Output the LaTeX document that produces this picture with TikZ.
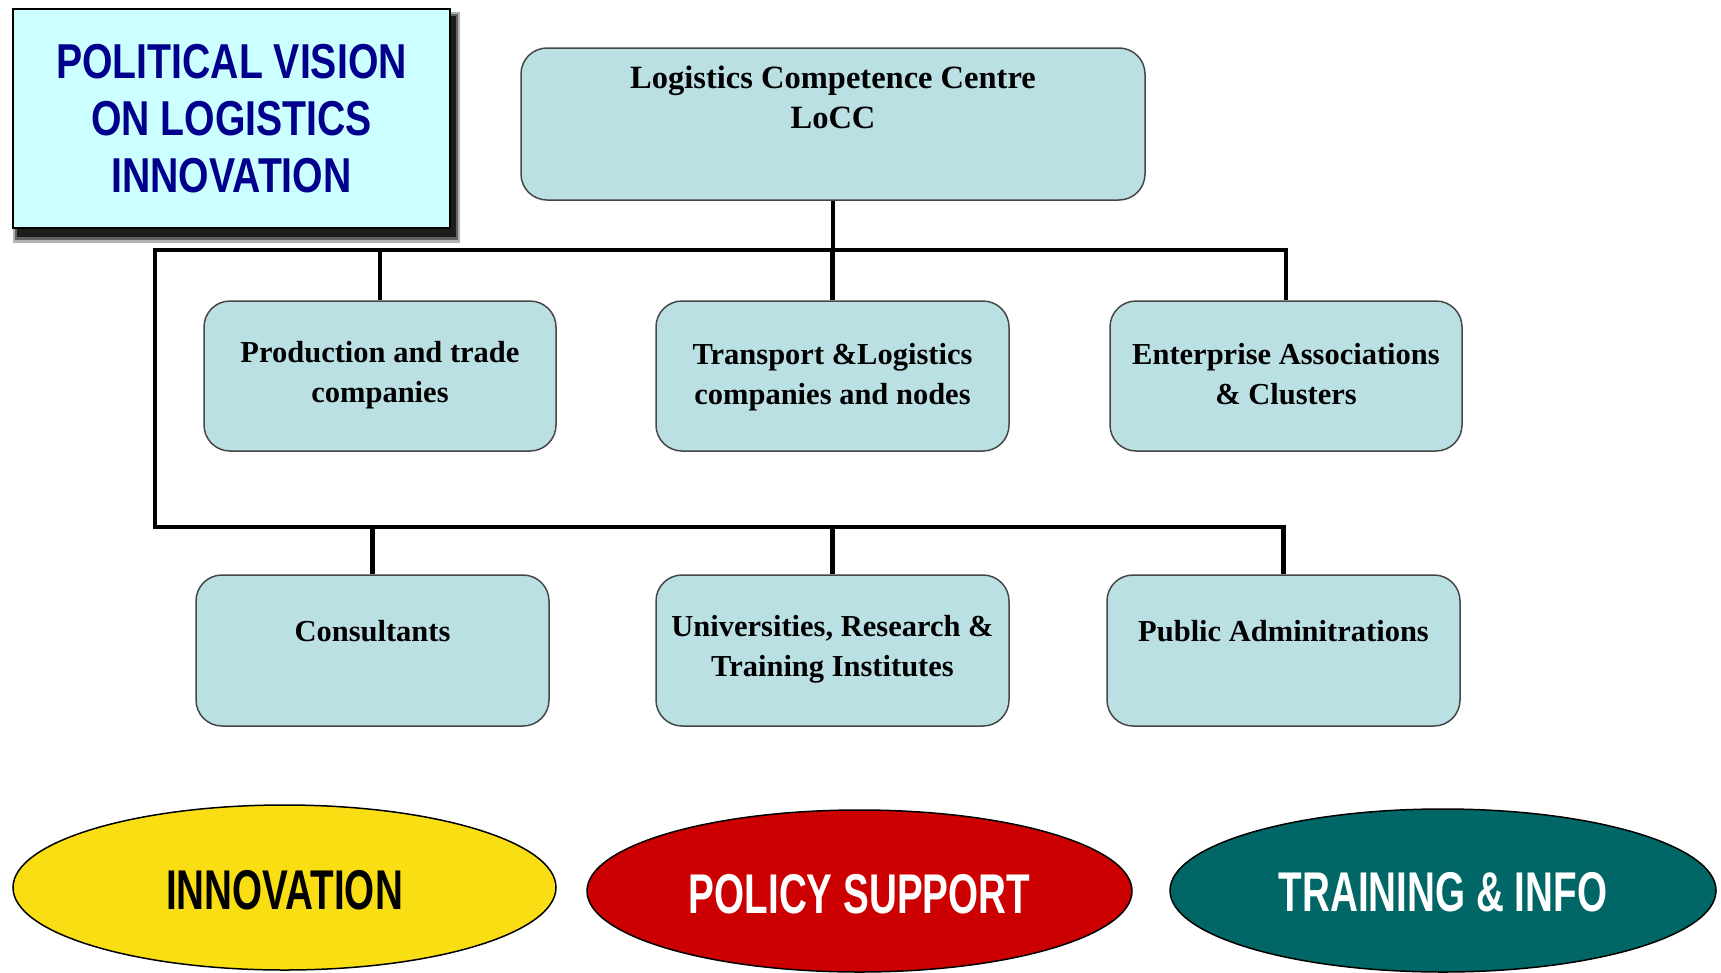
\documentclass[tikz,border=0pt]{standalone}
\usepackage{fontspec}
\usepackage{graphicx}
\setmainfont{Liberation Serif}
\newfontfamily\polfont{Liberation Sans}[FakeStretch=0.8]
\newfontfamily\ellfont{Liberation Sans}[FakeStretch=0.69]
\usetikzlibrary{shapes.geometric}
\definecolor{boxfill}{RGB}{186,224,228}
\definecolor{boxline}{RGB}{70,70,70}
\definecolor{polfill}{RGB}{204,255,255}
\definecolor{poltext}{RGB}{0,0,140}
\definecolor{ellyellow}{RGB}{250,222,20}
\definecolor{ellred}{RGB}{204,0,0}
\definecolor{ellteal}{RGB}{0,102,102}
\tikzset{
  orgbox/.style={draw=boxline, fill=boxfill, line width=1.5pt, rounded corners=26pt,
    minimum width=353pt, minimum height=150pt, inner sep=0pt},
  lbl/.style={align=center, inner sep=0pt, font=\bfseries\fontsize{30.5}{40}\selectfont},
  bus/.style={line width=4.8pt, line join=miter, black},
  ell/.style={ellipse, draw=black, line width=1.5pt, inner sep=0pt,
    font=\ellfont\bfseries\fontsize{56}{60}\selectfont},
  elltext/.style={inner sep=0pt, font=\ellfont\bfseries\fontsize{56}{60}\selectfont},
}
\begin{document}
\begin{tikzpicture}[x=1pt,y=-1pt]
\useasboundingbox (0,0) rectangle (1721,972);
% political vision box with shadow
\fill[black,opacity=0.3] (13,12) rectangle (460,243);
\fill[black,opacity=0.45] (15,14) rectangle (458,240);
\fill[black,opacity=0.7] (17,16) rectangle (456,237);
\node[draw=black, line width=2pt, fill=polfill, minimum width=437pt, minimum height=219pt,
  inner sep=0pt, align=center, text=poltext,
  font=\polfont\bfseries\fontsize{49}{57}\selectfont] (pol) at (231.5,118.5)
  {POLITICAL VISION\\ON LOGISTICS\\INNOVATION};
% LoCC
\node[orgbox, minimum width=624pt, minimum height=152pt] (locc) at (833,124) {};
\node[align=center, inner sep=0pt, font=\bfseries\fontsize{32.5}{40}\selectfont] (tlocc)
  at ([yshift=27pt]locc.center) {Logistics Competence Centre\\LoCC};
% row 1
\node[orgbox, minimum width=352pt] (b1) at (380,376) {};
\node[orgbox] (b2) at (832.5,376) {};
\node[orgbox, minimum width=352pt] (b3) at (1286,376) {};
% row 2
\node[orgbox, minimum height=151pt] (b4) at (372.5,650.5) {};
\node[orgbox, minimum height=151pt] (b5) at (832.5,650.5) {};
\node[orgbox, minimum height=151pt] (b6) at (1283.5,650.5) {};
% labels
\node[lbl] (t1) at ([yshift=1pt]b1.center) {Production and trade\\companies};
\node[lbl] (t2) at ([yshift=-1pt]b2.center) {Transport \&Logistics\\companies and nodes};
\node[lbl] (t3) at ([yshift=2pt]b3.center) {Enterprise Associations\\\& Clusters};
\node[lbl] (t4) at ([yshift=19.5pt]b4.center) {Consultants};
\node[lbl] (t5) at ([yshift=1pt]b5.center) {Universities, Research \&\\Training Institutes};
\node[lbl] (t6) at ([yshift=19.5pt]b6.center) {Public Adminitrations};
% buses
\coordinate (tl) at (155,250);
\coordinate (bl) at (155,527);
\draw[bus] (b3.north) -- (b3.north |- tl) -- (tl) -- (bl) -- (b6.north |- bl) -- (b6.north);
\draw[bus] (locc.south) -- (locc.south |- tl);
\draw[bus] (b1.north) -- (b1.north |- tl);
\draw[bus] (b2.north) -- (b2.north |- tl);
\draw[bus] (b4.north) -- (b4.north |- bl);
\draw[bus] (b5.north) -- (b5.north |- bl);
% ellipses
\node[ell, fill=ellyellow, minimum width=543pt, minimum height=165pt] (e1) at (284.5,887.5) {};
\node[ell, fill=ellred, minimum width=545pt, minimum height=162pt] (e2) at (859.5,891) {};
\node[ell, fill=ellteal, minimum width=546pt, minimum height=163pt] (e3) at (1443,890.5) {};
\node[elltext, text=black] (te1) at ([yshift=-3pt]e1.center) {INNOVATION};
\node[elltext, text=white] (te2) at ([yshift=-3pt]e2.center) {POLICY SUPPORT};
\node[elltext, text=white] (te3) at ([yshift=-2pt]e3.center) {TRAINING \& INFO};
\end{tikzpicture}
\end{document}
